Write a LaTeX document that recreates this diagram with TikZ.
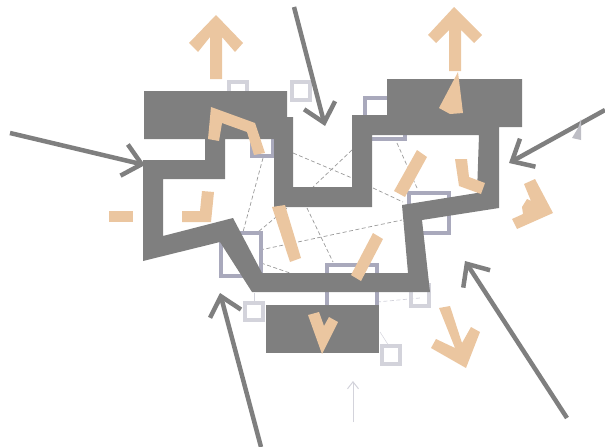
\documentclass[tikz,border=0pt]{standalone}
\usetikzlibrary{arrows.meta}
\definecolor{wallgray}{HTML}{7F7F7F}
\definecolor{glasslilac}{HTML}{A9A9BC}
\definecolor{glasslight}{HTML}{D3D3DB}
\definecolor{sandtan}{HTML}{EBC6A0}
\tikzset{
  wind/.style = {draw=wallgray, line width=4.5pt, -{Straight Barb[length=18pt,width=32pt,line width=4.5pt]}},
  frame/.style = {draw=glasslilac, line width=3.5pt},
  lightframe/.style = {draw=glasslight, line width=3.5pt},
  sight/.style = {draw=wallgray!80, line width=0.7pt, dash pattern=on 4pt off 2.5pt},
  flow/.style = {fill=sandtan}
}

\begin{document}
\begin{tikzpicture}[x=1pt, y=-1pt]

    \useasboundingbox (0,0) rectangle (605,447);

    % Sight lines
    \draw[sight] (263,158) -- (243,232);
    \draw[sight] (293,153) -- (352,178);
    \draw[sight] (352,150) -- (313,187);
    \draw[sight] (287,208) -- (258,232);
    \draw[sight] (307,208) -- (333,262);
    \draw[sight] (260,250) -- (402,220);
    \draw[sight] (261,263) -- (290,273);
    \draw[sight] (397,143) -- (417,188);
    \draw[sight] (373,188) -- (403,202);
    \draw[sight, draw=glasslight] (377,302) -- (420,298);
    \draw[draw=glasslight, line width=0.5pt] (380,332) -- (389,346);
    \draw[draw=glasslight, line width=0.5pt] (254,293) -- (254,302);

    % Windows
    \draw[lightframe] (229,82) rectangle (247,100);
    \draw[lightframe] (292,82) rectangle (310,100);
    \draw[lightframe] (411,285) rectangle (429,306);
    \draw[lightframe] (245,303) rectangle (263,320);
    \draw[lightframe] (382,346) rectangle (400,364);
    \draw[frame] (252,120) rectangle (273,156);
    \draw[frame] (365,98) rectangle (405,139);
    \draw[frame] (409,193) rectangle (449,233);
    \draw[frame] (221,233) rectangle (261,276);
    \draw[frame] (327,265) rectangle (377,308);

    % Walls
    \fill[wallgray, even odd rule]
      (144,91) -- (287,91) -- (287,117) -- (293,117) -- (293,187) -- (352,187)
      -- (352,115) -- (387,115) -- (387,79) -- (522,79) -- (522,127) -- (499,127)
      -- (499,208) -- (422,220) -- (430,292) -- (252,292) -- (220,242) -- (143,261)
      -- (143,160) -- (205,160) -- (205,139) -- (144,139) -- cycle
      (225,139) -- (274,139) -- (274,207) -- (372,207) -- (372,135) -- (479,135)
      -- (477,193) -- (402,205) -- (408,273) -- (262,273) -- (233,218) -- (163,236)
      -- (163,179) -- (225,179) -- cycle;
    \fill[wallgray] (266,305) rectangle (379,353);

    % Flows
    \fill[flow] (210,79) -- (222,79) -- (222,37) -- (235,52) -- (243,43) -- (216,15)
      -- (189,43) -- (198,52) -- (210,37) -- cycle;
    \fill[flow] (449,71) -- (461,71) -- (461,30) -- (474,43) -- (482,35) -- (454,7)
      -- (428,35) -- (436,43) -- (449,30) -- cycle;
    \fill[flow] (458,72) -- (463,113) -- (450,114) -- (439,108) -- cycle;
    \fill[flow] (211,107) -- (255,123) -- (265,153) -- (254,155) -- (247,132)
      -- (222,123) -- (219,141) -- (208,139) -- cycle;
    \fill[flow] (109,211) rectangle (133,222);
    \fill[flow] (182,211) -- (200,211) -- (202,191) -- (214,192) -- (211,222) -- (182,222) -- cycle;
    \fill[flow] (272,207) -- (285,205) -- (301,258) -- (290,262) -- cycle;
    \fill[flow] (373,233) -- (383,239) -- (361,281) -- (351,275) -- cycle;
    \fill[flow] (417,150) -- (427,157) -- (405,197) -- (394,191) -- cycle;
    \fill[flow] (455,159) -- (467,159) -- (469,177) -- (485,183) -- (481,194) -- (459,186) -- cycle;
    \fill[flow] (524,184) -- (535,179) -- (553,213) -- (517,229) -- (512,219)
      -- (523,214) -- (522,207) -- (527,199) -- (531,201) -- cycle;
    \fill[flow] (439,308) -- (450,306) -- (462,343) -- (471,327) -- (480,332) -- (466,368)
      -- (431,348) -- (436,339) -- (455,348) -- cycle;
    \fill[flow] (308,315) -- (319,312) -- (324,326) -- (329,317) -- (338,322) -- (322,354) -- cycle;

    % Winds
    \draw[wind] (294,7) -- (325,126);
    \draw[wind] (10,133) -- (145,165);
    \draw[wind] (605,110) -- (509,163);
    \draw[wind] (567,418) -- (465,261);
    \draw[wind] (261,447) -- (220,293);
    \draw[draw=glasslight, line width=1pt, -{Straight Barb[length=7pt,width=11pt]}] (353,422) -- (353,381);
    \fill[glasslight!90!black] (578,128) -- (581,119) -- (581,140) -- (572,138) -- cycle;

\end{tikzpicture}
\end{document}
